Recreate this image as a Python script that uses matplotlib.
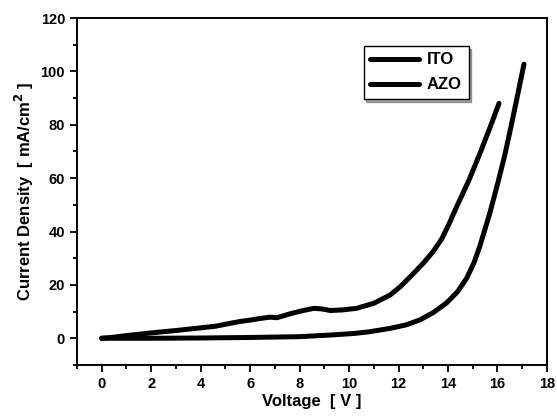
import matplotlib.pyplot as plt
from matplotlib.ticker import MultipleLocator

plt.rcParams['font.family'] = ['Liberation Sans', 'DejaVu Sans']
plt.rcParams['font.weight'] = 'bold'

# ITO curve (higher current, ends near 16 V)
ito_v = [0.0, 0.5, 1.0, 2.0, 3.0, 4.0, 4.6, 5.2, 5.6, 6.0, 6.4, 6.8, 7.09, 7.63, 8.1, 8.57, 8.9, 9.24, 9.7,
         10.3, 11.0, 11.66, 12.07, 12.5, 13.0, 13.4, 13.75, 14.05, 14.35, 14.85, 15.3, 15.74, 16.06]
ito_j = [0.0, 0.4, 1.0, 2.0, 2.9, 3.9, 4.5, 5.6, 6.3, 6.8, 7.4, 7.9, 7.7, 9.2, 10.3, 11.2, 11.0, 10.4, 10.6,
         11.2, 13.1, 16.2, 19.3, 23.3, 28.1, 32.5, 37.3, 43.0, 49.3, 59.3, 69.5, 80.0, 88.0]

# AZO curve (ends near 17 V)
azo_v = [0.0, 1.0, 2.0, 4.0, 6.0, 8.0, 9.24, 10.2, 10.8, 11.26, 11.66, 12.3, 12.87, 13.4, 13.95, 14.4,
         14.76, 15.05, 15.29, 15.7, 16.03, 16.3, 16.55, 16.8, 17.07]
azo_j = [0.0, 0.0, 0.0, 0.1, 0.3, 0.6, 1.2, 1.8, 2.4, 3.1, 3.7, 5.0, 6.9, 9.6, 13.3, 17.6,
         22.6, 28.3, 34.6, 47.2, 58.8, 68.8, 79.5, 90.5, 102.7]

fig, ax = plt.subplots(figsize=(5.57, 4.19), dpi=100)
fig.subplots_adjust(left=0.138, right=0.982, top=0.957, bottom=0.129)

ax.plot(ito_v, ito_j, color='black', lw=3.6, solid_capstyle='round', solid_joinstyle='round', label='ITO')
ax.plot(azo_v, azo_j, color='black', lw=3.6, solid_capstyle='round', solid_joinstyle='round', label='AZO')

ax.set_xlim(-1, 18)
ax.set_ylim(-10, 120)
ax.xaxis.set_major_locator(MultipleLocator(2))
ax.xaxis.set_minor_locator(MultipleLocator(1))
ax.yaxis.set_major_locator(MultipleLocator(20))
ax.yaxis.set_minor_locator(MultipleLocator(10))
ax.tick_params(which='both', direction='out', width=1.3, labelsize=10.5)
ax.tick_params(which='major', length=5)
ax.tick_params(which='minor', length=3)
for s in ax.spines.values():
    s.set_linewidth(1.4)

ax.set_xlabel('Voltage  [ V ]', fontsize=12, fontweight='bold', labelpad=2)
ax.set_ylabel('Current Density  [ mA/cm$^\\mathbf{2}$ ]', fontsize=12, fontweight='bold', labelpad=3)

leg = ax.legend(loc='upper left', bbox_to_anchor=(0.61, 0.92), fancybox=False, shadow=True,
                edgecolor='black', fontsize=12, handlelength=2.9, borderpad=0.4,
                labelspacing=0.6, handletextpad=0.5, borderaxespad=0, framealpha=1)
leg.get_frame().set_linewidth(1.0)

fig.savefig('out.png')
